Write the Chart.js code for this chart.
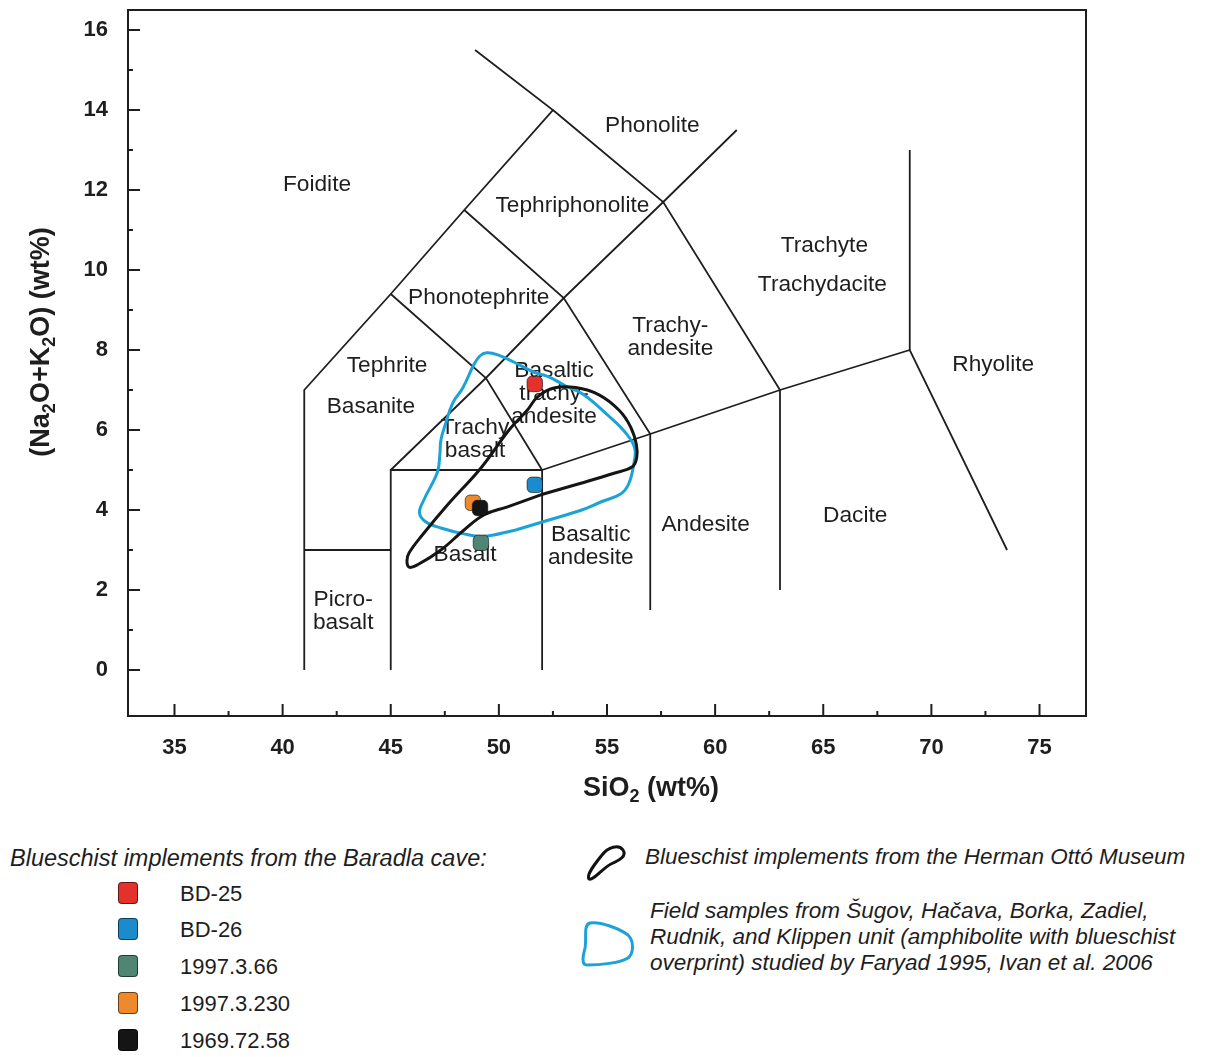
<!DOCTYPE html>
<html>
<head>
<meta charset="utf-8">
<script src="https://cdn.jsdelivr.net/npm/chart.js@4.4.0/dist/chart.umd.min.js"></script>
<style>
  body { margin: 0; background: #fff; font-family: "Liberation Sans", Arial, sans-serif; color: #1e1e1e; }
  #page { position: relative; width: 1218px; height: 1057px; overflow: hidden; }
  #chartBox { position: absolute; left: 0; top: 0; width: 1218px; height: 820px; }
  .leg { position: absolute; font-size: 22px; white-space: nowrap; line-height: 26px; }
  .it { font-style: italic; }
  .sw { position: absolute; width: 20px; height: 22px; border-radius: 4px; box-sizing: border-box; border: 1px solid rgba(0,0,0,0.55); }
</style>
</head>
<body>
<div id="page">
  <div id="chartBox"><canvas id="tas"></canvas></div>

  <div class="leg it" style="left:10px; top:845px; font-size:23.5px;">Blueschist implements from the Baradla cave:</div>
  <div id="sampleLegend"></div>

  <svg style="position:absolute; left:584px; top:842px;" width="44" height="42" viewBox="0 0 44 42">
    <path d="M5,37 C2,33 10,23 18,13 C24,5 35,2 39,8 C43,14 36,18 27,22 C19,26 9,39 5,37 Z" fill="none" stroke="#111" stroke-width="3"/>
  </svg>
  <div class="leg it" style="left:645px; top:844px; font-size:22.5px;">Blueschist implements from the Herman Ottó Museum</div>

  <svg style="position:absolute; left:578px; top:918px;" width="60" height="52" viewBox="0 0 60 52">
    <path d="M12,5 C22,3 42,11 50,17 C56,23 56,35 50,40 C42,45 22,47 9,47 C3,47 5,38 7,30 C9,20 5,7 12,5 Z" fill="none" stroke="#1ba2d8" stroke-width="3"/>
  </svg>
  <div class="leg it" style="left:650px; top:898px; font-size:22.5px;">Field samples from Šugov, Hačava, Borka, Zadiel,<br>Rudnik, and Klippen unit (amphibolite with blueschist<br>overprint) studied by Faryad 1995, Ivan et al. 2006</div>
</div>

<script>
// axis ticks
const xTicks = [35, 40, 45, 50, 55, 60, 65, 70, 75];
const yTicks = [0, 2, 4, 6, 8, 10, 12, 14, 16];
const xMinorTicks = [37.5, 42.5, 47.5, 52.5, 57.5, 62.5, 67.5, 72.5];
const yMinorTicks = [1, 3, 5, 7, 9, 11, 13, 15];

// Baradla cave samples
const sampleNames = ['BD-25', 'BD-26', '1997.3.66', '1997.3.230', '1969.72.58'];
const sampleSiO2 = [51.66, 51.66, 49.17, 48.80, 49.13];
const sampleAlk = [7.15, 4.63, 3.18, 4.18, 4.05];
const sampleColors = ['#e3312b', '#1b8bcb', '#4f8572', '#ef8a2c', '#151515'];

// Herman Ottó Museum outline (black)
const museumSiO2 = [51.94, 53.79, 55.32, 56.17, 56.37, 56.36, 56.09, 55.55, 54.63, 53.55, 52.55, 51.79, 51.32, 50.47, 49.17, 47.63, 46.47, 45.85, 45.75, 45.85, 46.24, 47.32, 48.39, 49.32, 50.40, 51.94];
const museumAlk = [4.38, 4.67, 4.92, 5.08, 5.30, 5.63, 6.08, 6.50, 6.88, 7.06, 7.05, 6.83, 6.50, 6.00, 5.05, 4.13, 3.38, 2.93, 2.73, 2.57, 2.63, 3.00, 3.50, 3.88, 4.08, 4.38];

// field samples outline (blue)
const fieldSiO2 = [50.78, 49.26, 48.33, 47.32, 46.63, 46.33, 46.53, 47.16, 47.27, 47.32, 47.55, 47.87, 48.33, 48.84, 49.12, 49.44, 49.95, 50.69, 51.61, 52.31, 53.09, 53.88, 55.08, 55.86, 56.28, 56.23, 56.00, 55.63, 54.71, 53.83, 52.31, 50.78];
const fieldAlk = [3.50, 3.34, 3.41, 3.55, 3.70, 3.93, 4.25, 4.95, 5.38, 5.75, 6.18, 6.68, 7.05, 7.63, 7.85, 7.93, 7.88, 7.70, 7.45, 7.33, 7.10, 6.90, 6.35, 5.93, 5.55, 5.13, 4.65, 4.40, 4.20, 4.00, 3.75, 3.50];

// TAS field boundaries (SiO2, Na2O+K2O)
const tasLines = [
  [[41, 0], [41, 7], [45, 9.4], [48.4, 11.5], [52.5, 14], [48.9, 15.5]],
  [[41, 3], [45, 3]],
  [[45, 0], [45, 5], [52, 5], [52, 0]],
  [[45, 5], [49.4, 7.3], [53, 9.3], [57.6, 11.7], [61, 13.5]],
  [[45, 9.4], [49.4, 7.3], [52, 5]],
  [[48.4, 11.5], [53, 9.3], [57, 5.9], [57, 1.5]],
  [[52.5, 14], [57.6, 11.7], [63, 7], [63, 2]],
  [[52, 5], [57, 5.9], [63, 7], [69, 8], [73.5, 3]],
  [[69, 8], [69, 13]]
];

// field names
const fieldNames = ['Foidite', 'Phonolite', 'Tephriphonolite', 'Trachyte', 'Trachydacite', 'Phonotephrite',
  'Trachy-\nandesite', 'Tephrite', 'Basanite', 'Rhyolite', 'Basaltic\ntrachy-\nandesite', 'Trachy\nbasalt',
  'Basalt', 'Basaltic\nandesite', 'Andesite', 'Dacite', 'Picro-\nbasalt'];
const labelSiO2 = [41.59, 57.1, 53.4, 65.05, 64.96, 49.07, 57.93, 44.83, 44.08, 72.86, 52.55, 48.9, 48.44, 54.25, 59.56, 66.48, 42.8];
const labelAlk = [12.13, 13.6, 11.6, 10.6, 9.63, 9.3, 8.33, 7.6, 6.58, 7.63, 6.9, 5.78, 2.88, 3.1, 3.63, 3.85, 1.48];

const ink = '#1e1e1e';
const fontFamily = '"Liberation Sans", Arial, sans-serif';

const legendBox = document.getElementById('sampleLegend');
const rowCentres = [893, 929, 966, 1003, 1040];
sampleNames.forEach((name, i) => {
  const sw = document.createElement('div');
  sw.className = 'sw';
  sw.style.left = '118px';
  sw.style.top = (rowCentres[i] - 11) + 'px';
  sw.style.background = sampleColors[i];
  legendBox.appendChild(sw);
  const t = document.createElement('div');
  t.className = 'leg';
  t.style.left = '180px';
  t.style.top = (rowCentres[i] - 12) + 'px';
  t.textContent = name;
  legendBox.appendChild(t);
});

function drawRich(ctx, parts, cx, cy, size) {
  const big = 'bold ' + size + 'px ' + fontFamily;
  const small = 'bold ' + Math.round(size * 0.65) + 'px ' + fontFamily;
  let total = 0;
  parts.forEach(p => { ctx.font = p[1] ? small : big; total += ctx.measureText(p[0]).width; });
  let x = cx - total / 2;
  ctx.textAlign = 'left';
  ctx.textBaseline = 'middle';
  parts.forEach(p => {
    ctx.font = p[1] ? small : big;
    ctx.fillText(p[0], x, p[1] ? cy + size * 0.3 : cy);
    x += ctx.measureText(p[0]).width;
  });
}

const decor = {
  id: 'decor',
  beforeDatasetsDraw(chart) {
    const { ctx, scales: { x, y } } = chart;
    ctx.save();
    ctx.fillStyle = ink;
    ctx.font = '22.7px ' + fontFamily;
    ctx.textAlign = 'center';
    ctx.textBaseline = 'middle';
    fieldNames.forEach((name, i) => {
      const lines = name.split('\n');
      const px = x.getPixelForValue(labelSiO2[i]);
      const py = y.getPixelForValue(labelAlk[i]);
      lines.forEach((ln, j) => {
        ctx.fillText(ln, px, py + (j - (lines.length - 1) / 2) * 23);
      });
    });
    ctx.restore();
  },
  afterDraw(chart) {
    const { ctx, chartArea: a, scales: { x, y } } = chart;
    ctx.save();
    ctx.strokeStyle = ink;
    ctx.lineWidth = 2;
    ctx.strokeRect(a.left, a.top, a.width, a.height);
    ctx.beginPath();
    xTicks.forEach(v => { const p = x.getPixelForValue(v); ctx.moveTo(p, a.bottom); ctx.lineTo(p, a.bottom - 12); });
    xMinorTicks.forEach(v => { const p = x.getPixelForValue(v); ctx.moveTo(p, a.bottom); ctx.lineTo(p, a.bottom - 5); });
    yTicks.forEach(v => { const p = y.getPixelForValue(v); ctx.moveTo(a.left, p); ctx.lineTo(a.left + 12, p); });
    yMinorTicks.forEach(v => { const p = y.getPixelForValue(v); ctx.moveTo(a.left, p); ctx.lineTo(a.left + 5, p); });
    ctx.stroke();

    ctx.fillStyle = ink;
    drawRich(ctx, [['SiO', false], ['2', true], [' (wt%)', false]], 651, 789, 27);
    ctx.translate(42, 342);
    ctx.rotate(-Math.PI / 2);
    drawRich(ctx, [['(Na', false], ['2', true], ['O+K', false], ['2', true], ['O) (wt%)', false]], 0, 0, 27);
    ctx.restore();
  }
};

const datasets = [];
sampleNames.forEach((name, i) => {
  datasets.push({
    label: name,
    data: [{ x: sampleSiO2[i], y: sampleAlk[i] }],
    pointStyle: 'rectRounded',
    pointRadius: 9,
    backgroundColor: sampleColors[i],
    borderColor: 'rgba(0,0,0,0.55)',
    borderWidth: 1,
    showLine: false,
    order: sampleNames.length - i
  });
});
datasets.push({
  label: 'Herman Ottó Museum',
  data: museumSiO2.map((v, i) => ({ x: v, y: museumAlk[i] })),
  showLine: true, tension: 0.4, borderColor: '#151515', borderWidth: 3,
  pointRadius: 0, fill: false, order: 10
});
datasets.push({
  label: 'Field samples',
  data: fieldSiO2.map((v, i) => ({ x: v, y: fieldAlk[i] })),
  showLine: true, tension: 0.4, borderColor: '#1ba2d8', borderWidth: 3,
  pointRadius: 0, fill: false, order: 11
});
tasLines.forEach((seg, i) => {
  datasets.push({
    label: 'tas' + i,
    data: seg.map(p => ({ x: p[0], y: p[1] })),
    showLine: true, tension: 0, borderColor: ink, borderWidth: 1.8,
    pointRadius: 0, fill: false, order: 20
  });
});

function noPad(s) {
  s.paddingTop = 0; s.paddingBottom = 0; s.paddingLeft = 0; s.paddingRight = 0;
}

new Chart(document.getElementById('tas'), {
  type: 'scatter',
  data: { datasets },
  options: {
    responsive: true,
    maintainAspectRatio: false,
    animation: false,
    layout: { padding: { left: 0, top: 10, right: 132, bottom: 0 } },
    plugins: { legend: { display: false }, tooltip: { enabled: false } },
    scales: {
      x: {
        type: 'linear', min: 32.85, max: 77.15,
        afterBuildTicks: s => { s.ticks = xTicks.map(v => ({ value: v })); },
        afterFit: s => { s.height = 104; noPad(s); },
        grid: { display: false, drawTicks: false },
        border: { display: false },
        ticks: { color: ink, font: { size: 22, weight: 'bold', family: fontFamily }, padding: 19, maxRotation: 0 }
      },
      y: {
        type: 'linear', min: -1.15, max: 16.5,
        afterBuildTicks: s => { s.ticks = yTicks.map(v => ({ value: v })); },
        afterFit: s => { s.width = 128; noPad(s); },
        grid: { display: false, drawTicks: false },
        border: { display: false },
        ticks: { color: ink, font: { size: 22, weight: 'bold', family: fontFamily }, padding: 20 }
      }
    }
  },
  plugins: [decor]
});
</script>
</body>
</html>
